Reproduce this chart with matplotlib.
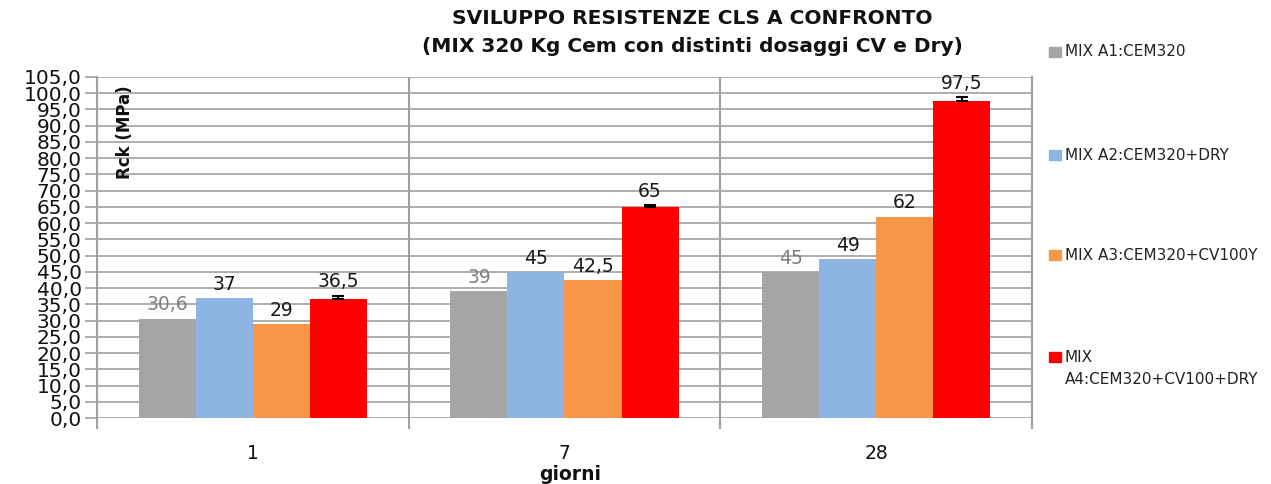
import matplotlib
matplotlib.use("Agg")
import matplotlib.pyplot as plt
import numpy as np
from matplotlib.patches import Rectangle

plt.rcParams['font.family'] = ['DejaVu Sans']

categories = ["1", "7", "28"]
series_names = ["MIX A1:CEM320", "MIX A2:CEM320+DRY", "MIX A3:CEM320+CV100Y",
                "MIX\nA4:CEM320+CV100+DRY"]
a1 = [30.6, 39, 45]
a2 = [37, 45, 49]
a3 = [29, 42.5, 62]
a4 = [36.5, 65, 97.5]
a4_err = [1.2, 0.6, 1.2]
value_labels = [["30,6", "39", "45"], ["37", "45", "49"], ["29", "42,5", "62"], ["36,5", "65", "97,5"]]
y_ticks = np.arange(0, 106, 5)
y_tick_labels = [f"{v:.1f}".replace(".", ",") for v in y_ticks]

colors = ["#A5A5A5", "#8EB4E3", "#F79646", "#FF0000"]
label_colors = ["#7F7F7F", "#1A1A1A", "#1A1A1A", "#1A1A1A"]
grid_c = "#A0A0A0"

W, H = 1271, 484
fig = plt.figure(figsize=(W / 100, H / 100), dpi=100)
ax = fig.add_axes([97 / W, 1 - 418 / H, (1032 - 97) / W, (418 - 77) / H])

x = np.arange(len(categories))
bw = 0.183
offsets = (np.arange(4) - 1.5) * bw
data = [a1, a2, a3, a4]
for i, vals in enumerate(data):
    pos = x + offsets[i]
    ax.bar(pos, vals, width=bw, color=colors[i], zorder=3, linewidth=0)
    for j, v in enumerate(vals):
        top = v + (a4_err[j] if i == 3 else 0)
        ax.annotate(value_labels[i][j], (pos[j], top), xytext=(0, 3),
                    textcoords="offset points", ha="center", va="bottom",
                    fontsize=13.5, color=label_colors[i], zorder=5)
ax.errorbar(x + offsets[3], a4, yerr=[np.zeros(3), a4_err], fmt="none",
            ecolor="black", elinewidth=1.5, capsize=4, capthick=1.5, zorder=4)

ax.set_xlim(-0.5, 2.5)
ax.set_ylim(0, 105)
ax.set_yticks(y_ticks)
ax.set_yticklabels(y_tick_labels, fontsize=14.5, color="#111111")
ax.set_xticks(x)
ax.set_xticklabels(categories, fontsize=13.5, color="#111111")
ax.set_xticks([-0.5, 0.5, 1.5, 2.5], minor=True)
ax.tick_params(axis="x", which="major", length=0, pad=19)
ax.tick_params(axis="x", which="minor", length=8, color=grid_c, width=1.5, direction="out")
ax.tick_params(axis="y", length=9, color=grid_c, width=1.2, direction="out", pad=2)
ax.yaxis.grid(True, color=grid_c, linewidth=1.2, zorder=0)
ax.xaxis.grid(True, which="minor", color=grid_c, linewidth=1.5, zorder=0)
for s in ["top", "bottom"]:
    ax.spines[s].set_visible(False)
for s in ["left", "right"]:
    ax.spines[s].set_color(grid_c)
    ax.spines[s].set_linewidth(1.5)
ax.set_axisbelow(True)

ax.text(0.03, 0.975, "Rck (MPa)", transform=ax.transAxes, rotation=90,
        ha="center", va="top", fontsize=12, fontweight="bold", color="#111111")
fig.text(570 / W, 1 - 475 / H, "giorni", ha="center", va="center",
         fontsize=13.5, fontweight="bold", color="#111111")

fig.text(692 / W, 1 - 18 / H, "SVILUPPO RESISTENZE CLS A CONFRONTO", ha="center",
         va="center", fontsize=14.5, fontweight="bold", color="#111111")
fig.text(692 / W, 1 - 46 / H, "(MIX 320 Kg Cem con distinti dosaggi CV e Dry)", ha="center",
         va="center", fontsize=14.5, fontweight="bold", color="#111111")

leg_y = [52, 155, 255, 357]
for i, name in enumerate(series_names):
    yc = leg_y[i]
    fig.patches.append(Rectangle((1049 / W, 1 - (yc + 5) / H), 12 / W, 10 / H,
                                 transform=fig.transFigure, color=colors[i]))
    lines = name.split("\n")
    fig.text(1065 / W, 1 - yc / H, lines[0], ha="left", va="center", fontsize=11, color="#222222")
    if len(lines) > 1:
        fig.text(1065 / W, 1 - (yc + 23) / H, lines[1], ha="left", va="center",
                 fontsize=11, color="#222222")

fig.savefig("out.png", dpi=100)
